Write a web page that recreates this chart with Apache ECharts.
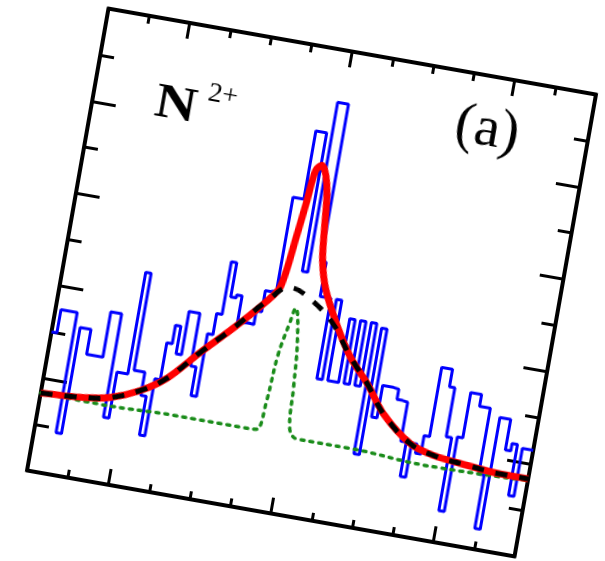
<!DOCTYPE html>
<html>
<head>
<meta charset="utf-8">
<title>N2+ (a)</title>
<script src="https://cdn.jsdelivr.net/npm/echarts@6/dist/echarts.min.js"></script>
<style>
  html, body { margin: 0; padding: 0; background: #fff; }
  /* the whole figure is tilted by about 10 degrees */
  #main { position: absolute; left: 43.5px; top: 27.5px; width: 535px; height: 509px; transform: rotate(10deg); }
</style>
</head>
<body>
<div id="main"></div>
<script type="text/javascript">
// histogram: one count per bin, bins of width 1 starting at -45
var binStart = -45;
var binWidth = 1;
var counts = [
  15, 17.5, 17.5, 17.5, 4.5, 16, 16, 13.3, 13.3, 13.3,
  18.2, 18.2, 7, 12, 12, 23, 12.5, 12.5, 10, 5.8,
  12, 16, 18, 15, 19.7, 19.7, 14, 10.9, 17.7, 20,
  25.7, 22, 22.3, 19.5, 19.6, 19.5, 21, 23.3, 23.5, 33.6,
  33.6, 41, 41, 26, 44.4, 44.4, 27.4, 23.7, 23.7, 15,
  23.7, 15, 15, 21.9, 15, 21.9, 15, 21.9, 7.8, 21.5,
  12, 15.5, 15.5, 15.4, 14.3, 14.2, 10, 6.3, 10, 9,
  11, 18.5, 18.5, 16.6, 11.3, 3.4, 11.5, 16.4, 16.4, 15.1,
  15.1, 8, 2.2, 14.3, 14.3, 11, 11.8, 6.3, 11.5, 11.5
];

// broad fit component (black)
var blackX = [-45, -37.2, -32.4, -27.2, -22.8, -17.7, -12.5, -7.3, -3.6, -1.1, 4.6, 9.3, 13.2, 17.1, 22.8, 27.3, 33.5, 39.9, 45];
var blackY = [8.4, 8.7, 9.2, 10.5, 12.3, 15.6, 18.8, 22.3, 24.1, 23.7, 21.4, 17.9, 15.4, 12.5, 9.9, 9.1, 8.7, 8.4, 8.4];

// total fit (red)
var redX = [-45, -37.2, -32.4, -27.2, -22.8, -17.7, -12.5, -7.3, -5.4, -4.1, -3.4, -2.8, -1.8, -0.8, 0, 0.6, 1.3, 2.8, 5.9, 9.3, 13.2, 17.1, 22.8, 27.3, 33.5, 39.9, 45];
var redY = [8.4, 8.7, 9.2, 10.5, 12.3, 15.6, 18.8, 22.3, 24.0, 29.8, 33.5, 36.8, 37.5, 36.5, 34.5, 31.0, 27.5, 24.5, 21.0, 17.9, 15.4, 12.5, 9.9, 9.1, 8.7, 8.4, 8.4];

// narrow peak + background (green dotted)
var greenX = [-45, -32.7, -20.5, -8, -5.1, -4.3, -3.7, -2.6, -2.0, -0.7, 0.1, 0.7, 2.4, 11.7, 26.1, 45];
var greenY = [8.4, 8.3, 8.5, 8.5, 8.6, 11.7, 16.8, 20.4, 22.0, 18.7, 13.7, 9.3, 8.3, 8.3, 7.9, 8.2];

// axis ticks
var xMinorStep = 7.5;
var xMajorTicks = [-30, 0, 30];
var yMinorStep = 5;
var yMajorStep = 10;

function pairs(xs, ys) {
  var out = [];
  for (var i = 0; i < xs.length; i++) out.push([xs[i], ys[i]]);
  return out;
}

var histData = [];
for (var i = 0; i < counts.length; i++) {
  histData.push([binStart + i * binWidth, counts[i]]);
}
histData.push([binStart + counts.length * binWidth, counts[counts.length - 1]]);

var myChart = echarts.init(document.getElementById('main'));

var tickLine = { color: '#000', width: 3 };
var frameLine = { show: true, onZero: false, lineStyle: { color: '#000', width: 4 } };
var hiddenLine = { show: false, onZero: false };
var noLabel = { show: false };
var noSplit = { show: false };
var plotRect = { left: 20, top: 20, width: 495, height: 469, containLabel: false };

// four grids on the same rectangle, one x and one y axis each:
// 0 = bottom/left minor (holds the data), 1 = top/right minor, 2 = bottom/left major, 3 = top/right major
function xAx(pos, major, g) {
  var a = {
    type: 'value', min: -45, max: 45, position: pos, gridIndex: g,
    axisLabel: noLabel, splitLine: noSplit
  };
  if (major) {
    a.axisLine = hiddenLine;
    a.axisTick = { show: true, inside: true, length: 16, customValues: xMajorTicks, lineStyle: tickLine };
  } else {
    a.interval = xMinorStep;
    a.axisLine = frameLine;
    a.axisTick = { show: true, inside: true, length: 8, lineStyle: tickLine };
  }
  return a;
}

function yAx(pos, major, g) {
  return {
    type: 'value', min: 0, max: 50, position: pos, gridIndex: g,
    interval: major ? yMajorStep : yMinorStep,
    axisLine: major ? hiddenLine : frameLine,
    axisTick: { show: true, inside: true, length: major ? 24 : 14, lineStyle: tickLine },
    axisLabel: noLabel, splitLine: noSplit
  };
}

var option = {
  animation: false,
  grid: [plotRect, plotRect, plotRect, plotRect],
  xAxis: [xAx('bottom', false, 0), xAx('top', false, 1), xAx('bottom', true, 2), xAx('top', true, 3)],
  yAxis: [yAx('left', false, 0), yAx('right', false, 1), yAx('left', true, 2), yAx('right', true, 3)],
  graphic: [
    { type: 'text', x: 103, y: 105, scaleX: 1.2, style: { text: 'N', font: 'bold 48px "Liberation Serif"', fill: '#000', textAlign: 'center', textVerticalAlign: 'middle' } },
    { type: 'text', x: 148, y: 86, style: { text: '2+', font: '28px "Liberation Serif"', fill: '#000', textAlign: 'center', textVerticalAlign: 'middle' } },
    { type: 'text', x: 414, y: 74, style: { text: '(a)', font: '58px "Liberation Serif"', fill: '#000', textAlign: 'center', textVerticalAlign: 'middle' } }
  ],
  series: [
    {
      type: 'line', step: 'end', data: histData, symbol: 'none', z: 2,
      xAxisIndex: 0, yAxisIndex: 0,
      lineStyle: { color: '#0000ff', width: 3 }
    },
    {
      type: 'line', data: pairs(greenX, greenY), smooth: 0.4, symbol: 'none', z: 3,
      xAxisIndex: 0, yAxisIndex: 0,
      lineStyle: { color: '#1a8c1a', width: 3.5, type: [3, 6], cap: 'round' }
    },
    {
      type: 'line', data: pairs(redX, redY), smooth: 0.3, symbol: 'none', z: 4,
      xAxisIndex: 0, yAxisIndex: 0,
      lineStyle: { color: '#ff0000', width: 7 }
    },
    {
      type: 'line', data: pairs(blackX, blackY), smooth: 0.4, symbol: 'none', z: 5,
      xAxisIndex: 0, yAxisIndex: 0,
      lineStyle: { color: '#000', width: 5, type: [12, 12] }
    }
  ]
};

myChart.setOption(option);
</script>
</body>
</html>
